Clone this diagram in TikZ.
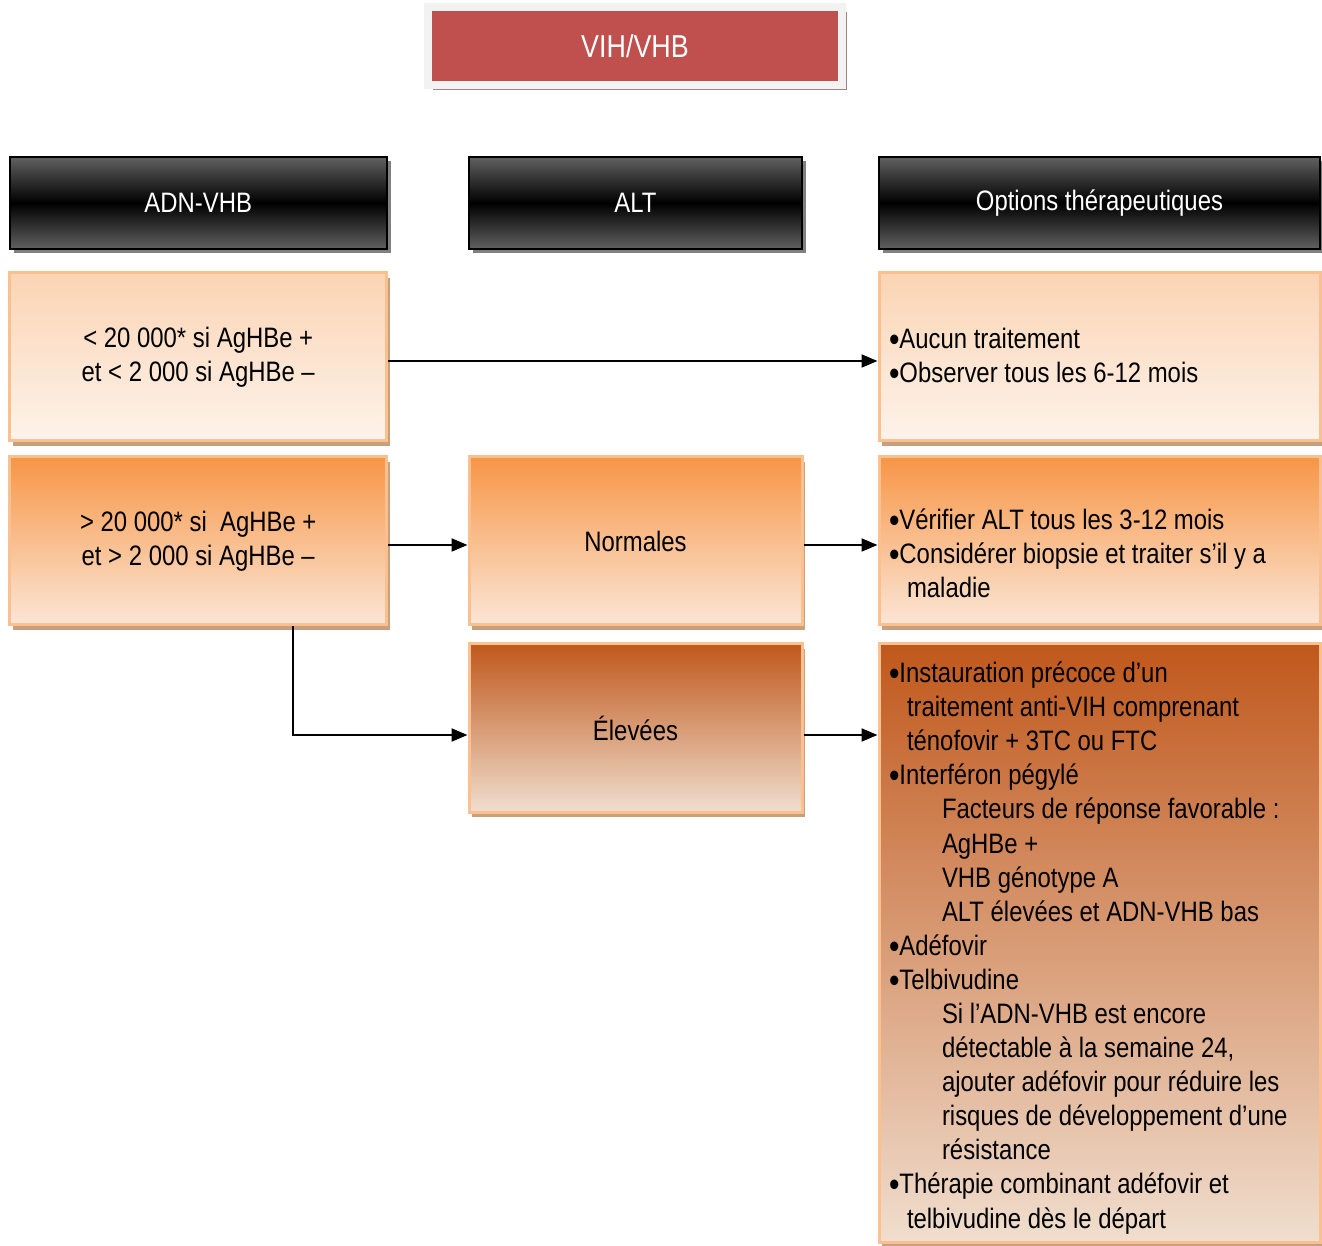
\documentclass[tikz,border=0pt]{standalone}
\usepackage{fontspec}
\setmainfont{Liberation Sans}[FakeStretch=0.85]
\usetikzlibrary{arrows.meta,shadows}

\definecolor{vihred}{RGB}{192,80,77}
\definecolor{redshadow}{RGB}{165,130,130}
\definecolor{boxline}{RGB}{250,192,144}
\definecolor{tanshadow}{RGB}{200,160,125}
\definecolor{paletop}{RGB}{251,212,180}
\definecolor{palebot}{RGB}{253,243,235}
\definecolor{midtop}{RGB}{247,150,70}
\definecolor{midbot}{RGB}{251,230,215}
\definecolor{darktop}{RGB}{192,88,28}
\definecolor{darkbot}{RGB}{240,222,206}

\newcommand{\contind}{\hspace*{0.36cm}}
\newcommand{\subind}{\hspace*{1.06cm}}
\newcommand{\natsp}{\spaceskip=0pt\xspaceskip=0pt\relax}
\newcommand{\bul}{\raisebox{-0.06cm}{\fontsize{20pt}{0pt}\selectfont\textbullet}}

\begin{document}
\begin{tikzpicture}[
  every node/.style={font=\fontsize{16pt}{19.4pt}\selectfont},
  titlebox/.style={fill=vihred, draw=gray!10, line width=0.16cm, text=white,
    minimum width=8.28cm, minimum height=1.56cm, font=\fontsize{18pt}{21pt}\selectfont,
    drop shadow={shadow xshift=0.1cm, shadow yshift=-0.1cm, fill=redshadow, opacity=1}},
  headbox/.style={draw=black, line width=0.04cm, top color=black!62, bottom color=black!62,
    middle color=black, text=white, minimum height=1.84cm,
    drop shadow={shadow xshift=0.08cm, shadow yshift=-0.08cm, fill=black!50, opacity=1}},
  lightbox/.style={draw=boxline, line width=0.06cm, minimum height=3.36cm, inner xsep=0.2cm,
    drop shadow={shadow xshift=0.06cm, shadow yshift=-0.1cm, fill=tanshadow, opacity=1}},
  pale/.style={lightbox, top color=paletop, bottom color=palebot},
  orange/.style={lightbox, top color=midtop, bottom color=midbot},
  brown/.style={lightbox, top color=darktop, bottom color=darkbot},
  leftcol/.style={minimum width=7.53cm, align=center},
  midcol/.style={minimum width=6.66cm, align=center},
  rightcol/.style={minimum width=8.82cm, text width=8.42cm, align=left},
  arr/.style={line width=0.04cm, -{Triangle[length=0.32cm,width=0.26cm]}}
]
\useasboundingbox (0,0) rectangle (26.44,24.9);

% titre
\node[titlebox] (vih) at (12.70,23.98) {VIH/VHB};

% en-tetes
\node[headbox, leftcol] (adn) at (3.965,20.84) {ADN-VHB};
\node[headbox, midcol] (alt) at (12.71,20.84) {ALT};
\node[headbox, minimum width=8.82cm] (opt) at (21.99,20.84) {Options thérapeutiques};

% ligne 1
\node[pale, leftcol] (bas) at (3.965,17.76) {< 20 000* si AgHBe +\\et < 2 000 si AgHBe –};
\node[pale, rightcol] (aucun) at (21.99,17.76) {\natsp\bul Aucun traitement\\
\bul Observer tous les 6-12 mois};

% ligne 2
\node[orange, leftcol] (haut) at (3.965,14.08) {> 20 000* si\ \ AgHBe +\\et > 2 000 si AgHBe –};
\node[orange, midcol] (norm) at (12.71,14.08) {Normales};
\node[orange, rightcol] (verif) at (21.99,14.08) {\natsp\rule{0pt}{0.9cm}\bul Vérifier ALT tous les 3-12 mois\\
\bul Considérer biopsie et traiter s’il y a\\
\contind maladie};

% ligne 3
\node[brown, midcol] (elev) at (12.71,10.34) {Élevées};
\node[brown, rightcol, minimum height=11.96cm] (trait) at (21.99,6.04) {\natsp\rule{0pt}{0.61cm}\bul Instauration précoce d’un\\
\contind traitement anti-VIH comprenant\\
\contind ténofovir + 3TC ou FTC\\
\bul Interféron pégylé\\
\subind Facteurs de réponse favorable :\\
\subind AgHBe +\\
\subind VHB génotype A\\
\subind ALT élevées et ADN-VHB bas\\
\bul Adéfovir\\
\bul Telbivudine\\
\subind Si l’ADN-VHB est encore\\
\subind détectable à la semaine 24,\\
\subind ajouter adéfovir pour réduire les\\
\subind risques de développement d’une\\
\subind résistance\\
\bul Thérapie combinant adéfovir et\\
\contind telbivudine dès le départ};

% fleches
\draw[arr] ([yshift=-0.08cm]bas.east) -- ([yshift=-0.08cm]bas.east -| aucun.west);
\draw[arr] ([yshift=-0.08cm]haut.east) -- ([yshift=-0.08cm]haut.east -| norm.west);
\draw[arr] ([yshift=-0.08cm]norm.east) -- ([yshift=-0.08cm]norm.east -| verif.west);
\draw[arr] ([xshift=1.9cm]haut.south) |- ([yshift=-0.14cm]elev.west);
\draw[arr] ([yshift=-0.14cm]elev.east) -- ([yshift=-0.14cm]elev.east -| trait.west);

\end{tikzpicture}
\end{document}
